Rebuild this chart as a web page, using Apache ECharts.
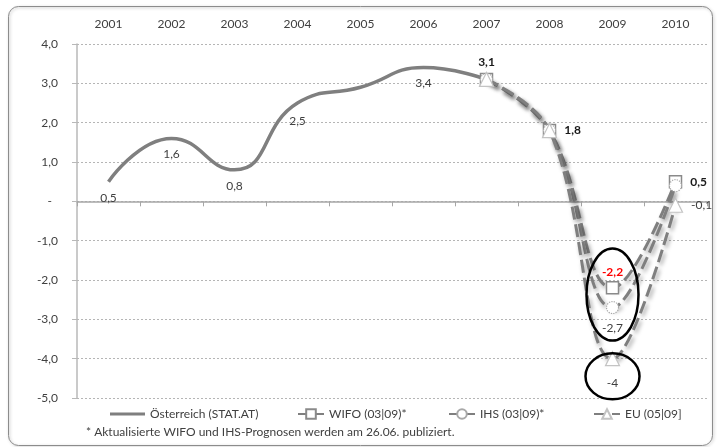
<!DOCTYPE html>
<html>
<head>
<meta charset="utf-8">
<script src="https://cdn.jsdelivr.net/npm/echarts@6/dist/echarts.min.js"></script>
<style>
  html, body { margin: 0; padding: 0; background: #ffffff; }
  #chart { width: 717px; height: 447px; }
</style>
</head>
<body>
<div id="chart"></div>
<script>
// Real GDP growth, Austria, in % (actual values and forecasts)
var years = ['2001', '2002', '2003', '2004', '2005', '2006', '2007', '2008', '2009', '2010'];
var statAt = [0.5, 1.6, 0.8, 2.5, 2.9, 3.4, 3.1, null, null, null];
var wifo   = [null, null, null, null, null, null, 3.1, 1.8, -2.2, 0.5];
var ihs    = [null, null, null, null, null, null, 3.1, 1.8, -2.7, 0.4];
var eu     = [null, null, null, null, null, null, 3.1, 1.8, -4.0, -0.1];
var yTicks = [-5, -4, -3, -2, -1, 0, 1, 2, 3, 4];

var names = ['Österreich (STAT.AT)', 'WIFO (03|09)*', 'IHS (03|09)*', 'EU (05|09]'];
var footnote = '* Aktualisierte WIFO und IHS-Prognosen werden am 26.06. publiziert.';

var FONT = 'Lato, "Open Sans", sans-serif';
var TXT = '#404040';
var LINE = '#7f7f7f';

function de(v) { return v.toFixed(1).replace('.', ','); }

// which points carry a value label, and how
var statLabels = {
  0: { position: 'bottom', distance: 10 },
  1: { position: 'bottom', distance: 10 },
  2: { position: 'bottom', distance: 10 },
  3: { position: 'bottom', distance: 12 },
  5: { position: 'bottom', distance: 10 }
};
var wifoLabels = {
  6: { position: 'top', fontWeight: 'bold', color: '#1a1a1a' },
  7: { position: 'right', fontWeight: 'bold', color: '#1a1a1a', distance: 8 },
  8: { position: 'top', fontWeight: 'bold', color: '#ff0000', distance: 3 },
  9: { position: 'right', fontWeight: 'bold', color: '#1a1a1a', distance: 8 }
};
var ihsLabels = { 8: { position: 'bottom', distance: 8 } };
var euLabels = {
  8: { position: 'bottom', distance: 11, formatter: function (p) { return String(Math.round(p.value)); } },
  9: { position: 'right', distance: 8 }
};

function build(values, labels) {
  return values.map(function (v, i) {
    if (v === null) return null;
    var cfg = labels[i];
    if (!cfg) return { value: v };
    return {
      value: v,
      label: Object.assign({
        show: true,
        fontFamily: FONT,
        fontSize: 12,
        color: TXT,
        formatter: function (p) { return de(p.value); }
      }, cfg)
    };
  });
}

var shadow = { shadowColor: 'rgba(0,0,0,0.35)', shadowBlur: 4, shadowOffsetX: 2, shadowOffsetY: 3 };

function forecast(name, data, labels, symbol, size, itemStyle) {
  return {
    name: name,
    type: 'line',
    xAxisIndex: 1,
    smooth: 0.4,
    data: build(data, labels),
    symbol: symbol,
    symbolSize: size,
    showAllSymbol: true,
    lineStyle: Object.assign({ color: LINE, width: 3, type: [13, 5] }, shadow),
    itemStyle: Object.assign({ color: '#ffffff' }, itemStyle),
    label: { show: false },
    z: 3
  };
}

var chart = echarts.init(document.getElementById('chart'), null, { renderer: 'canvas' });

var legendBase = {
  top: 403,
  itemHeight: 12,
  itemGap: 0,
  textStyle: { fontFamily: FONT, fontSize: 12, color: TXT },
  selectedMode: false
};

chart.setOption({
  animation: false,
  backgroundColor: '#ffffff',
  grid: { left: 77, right: 10, top: 44, bottom: 49, containLabel: false },
  xAxis: [
    {
      type: 'category', data: years, position: 'top', boundaryGap: true,
      axisLine: { show: false, onZero: false },
      axisTick: { show: false },
      axisLabel: { fontFamily: FONT, fontSize: 12, color: TXT, margin: 14 },
      splitLine: { show: false }
    },
    {
      type: 'category', data: years, position: 'bottom', boundaryGap: true,
      axisLine: { show: true, onZero: true, lineStyle: { color: '#a6a6a6', width: 1.5 } },
      axisTick: { show: true, length: 5, lineStyle: { color: '#a6a6a6', width: 1 } },
      axisLabel: { show: false },
      splitLine: { show: false }
    }
  ],
  yAxis: {
    type: 'value', min: yTicks[0], max: yTicks[yTicks.length - 1], interval: 1,
    axisLine: { show: true, lineStyle: { color: '#b8b8b8', width: 1.5 } },
    axisTick: { show: true, length: 5, lineStyle: { color: '#b8b8b8' } },
    axisLabel: {
      fontFamily: FONT, fontSize: 12, color: TXT, margin: 19,
      formatter: function (v) { return v === 0 ? '-\u2002' : de(v); }
    },
    splitLine: { show: true, lineStyle: { color: '#b5b5b5', type: [2, 2], width: 1 } }
  },
  legend: [
    Object.assign({}, legendBase, {
      left: 105, itemWidth: 35, itemHeight: 3, icon: 'rect',
      itemStyle: { color: LINE, borderWidth: 0 },
      data: [names[0]]
    }),
    Object.assign({}, legendBase, { left: 292, itemWidth: 26, data: [names[1]] }),
    Object.assign({}, legendBase, { left: 443, itemWidth: 26, data: [names[2]] }),
    Object.assign({}, legendBase, { left: 588, itemWidth: 26, data: [names[3]] })
  ],
  series: [
    {
      name: names[0],
      type: 'line',
      xAxisIndex: 1,
      smooth: 0.5,
      data: build(statAt, statLabels),
      symbol: 'circle',
      symbolSize: 0,
      showSymbol: true,
      showAllSymbol: true,
      lineStyle: { color: LINE, width: 3.5 },
      itemStyle: { color: LINE },
      z: 2
    },
    forecast(names[1], wifo, wifoLabels, 'rect', 12,
      { borderColor: '#8a8a8a', borderWidth: 1.5 }),
    forecast(names[2], ihs, ihsLabels, 'circle', 12,
      { borderColor: '#a8a8a8', borderWidth: 1.2, borderType: 'dotted' }),
    forecast(names[3], eu, euLabels, 'triangle', 14,
      { borderColor: '#c4c4c4', borderWidth: 1.2 })
  ]
});

// frame, footnote and the two highlight ellipses around the 2009 forecasts
var c1 = chart.convertToPixel({ xAxisIndex: 1, yAxisIndex: 0 }, [8, -2.37]);
var c2 = chart.convertToPixel({ xAxisIndex: 1, yAxisIndex: 0 }, [8, -4.45]);

chart.setOption({
  graphic: [
    {
      type: 'rect', silent: true, z: -1,
      shape: { x: 8.5, y: 6.5, width: 704, height: 439, r: 10 },
      style: { fill: 'rgba(0,0,0,0)', stroke: '#8c8c8c', lineWidth: 1,
               shadowColor: 'rgba(0,0,0,0.3)', shadowBlur: 3, shadowOffsetX: 1, shadowOffsetY: 1 }
    },
    {
      type: 'text', left: 86, top: 426, silent: true,
      style: { text: footnote, font: '12px ' + FONT, fill: TXT }
    },
    {
      type: 'ellipse', silent: true, z: 10,
      shape: { cx: c1[0], cy: c1[1], rx: 26, ry: 46 },
      style: { fill: 'rgba(0,0,0,0)', stroke: '#000000', lineWidth: 2.5 }
    },
    {
      type: 'ellipse', silent: true, z: 10,
      shape: { cx: c2[0], cy: c2[1], rx: 27, ry: 23 },
      style: { fill: 'rgba(0,0,0,0)', stroke: '#000000', lineWidth: 2.5 }
    }
  ]
});
</script>
</body>
</html>
